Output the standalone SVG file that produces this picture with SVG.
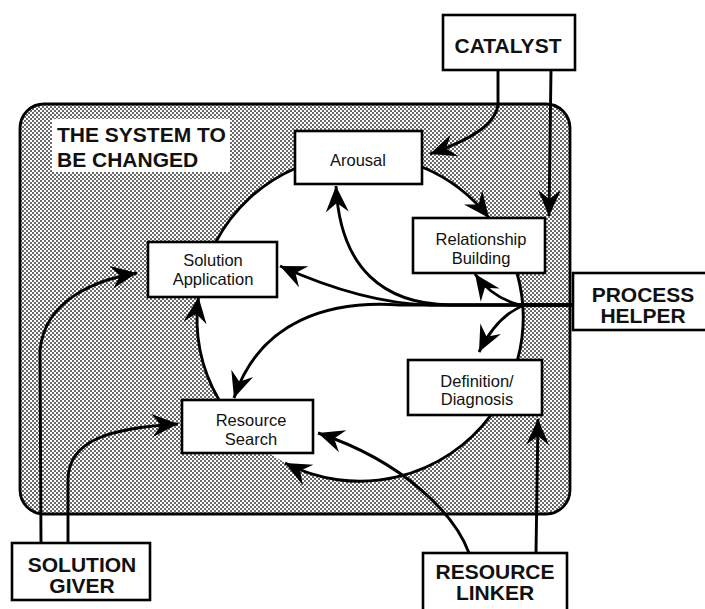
<svg xmlns="http://www.w3.org/2000/svg" width="705" height="609" viewBox="0 0 705 609">
  <defs>
    <!-- halftone dot screen used for the system area -->
    <pattern id="stipple" width="4" height="4" patternUnits="userSpaceOnUse">
      <rect width="4" height="4" fill="#fff"/>
      <circle cx="1" cy="1" r="0.95" fill="#2a2a2a"/>
      <circle cx="3" cy="3" r="0.95" fill="#2a2a2a"/>
    </pattern>
    <marker id="head" markerUnits="userSpaceOnUse" markerWidth="30" markerHeight="28" viewBox="-28 -14 30 28" refX="0" refY="0" orient="auto">
      <path d="M0,0 L-26,-11.5 L-17,0 L-26,11.5 Z" fill="#000"/>
    </marker>
    <style>
      .box { fill: #fff; stroke: #000; stroke-width: 2.6; }
      .conn { fill: none; stroke: #000; stroke-width: 2.9; }
      .arrow { marker-end: url(#head); }
      .big { font-family: "Liberation Sans", Arial, Helvetica, sans-serif; font-weight: bold; font-size: 21px; fill: #111; }
      .mid { text-anchor: middle; }
      .small { font-family: "Liberation Sans", Arial, Helvetica, sans-serif; font-size: 16.5px; fill: #111; text-anchor: middle; }
    </style>
  </defs>

  <rect width="705" height="609" fill="#fff"/>

  <!-- the system to be changed: shaded container with its title -->
  <g id="system">
    <rect x="20" y="104" width="550" height="410" rx="24" fill="url(#stipple)" stroke="#000" stroke-width="2.8"/>
    <rect x="52" y="119" width="178" height="53" fill="#fff"/>
    <text class="big" x="57" y="142">THE SYSTEM TO</text>
    <text class="big" x="57" y="167">BE CHANGED</text>
    <!-- open inner cycle area -->
    <circle cx="360" cy="318" r="163" fill="#fff"/>
  </g>

  <!-- stages of the change cycle -->
  <g id="arousal">
    <rect class="box" x="295" y="131" width="127" height="53"/>
    <text class="small" x="358" y="166">Arousal</text>
  </g>
  <g id="relationship-building">
    <rect class="box" x="413" y="218" width="132" height="55"/>
    <text class="small" x="481" y="245">Relationship</text>
    <text class="small" x="481" y="263.5">Building</text>
  </g>
  <g id="definition-diagnosis">
    <rect class="box" x="408" y="360" width="134" height="55"/>
    <text class="small" x="477" y="386.5">Definition/</text>
    <text class="small" x="477" y="405">Diagnosis</text>
  </g>
  <g id="resource-search">
    <rect class="box" x="182" y="400" width="131" height="53"/>
    <text class="small" x="251" y="426">Resource</text>
    <text class="small" x="251" y="444.5">Search</text>
  </g>
  <g id="solution-application">
    <rect class="box" x="148" y="242" width="129" height="55"/>
    <text class="small" x="213" y="266">Solution</text>
    <text class="small" x="213" y="284.5">Application</text>
  </g>

  <!-- change agent roles -->
  <g id="catalyst">
    <rect class="box" x="443" y="15" width="132" height="55"/>
    <text class="big mid" x="508" y="53">CATALYST</text>
  </g>
  <g id="process-helper">
    <rect class="box" x="573" y="273" width="140" height="57"/>
    <text class="big mid" x="643" y="302">PROCESS</text>
    <text class="big mid" x="643" y="323">HELPER</text>
  </g>
  <g id="solution-giver">
    <rect class="box" x="12" y="543" width="138" height="57"/>
    <text class="big mid" x="82" y="572">SOLUTION</text>
    <text class="big mid" x="82" y="593">GIVER</text>
  </g>
  <g id="resource-linker">
    <rect class="box" x="423" y="553" width="144" height="62"/>
    <text class="big mid" x="495" y="579">RESOURCE</text>
    <text class="big mid" x="495" y="600">LINKER</text>
  </g>

  <g id="connectors">
    <!-- cycle arcs -->
    <path class="conn arrow" d="M422,167 A163,163 0 0 1 489,218"/>
    <path class="conn" d="M517,273 A163,163 0 0 1 517.5,360"/>
    <path class="conn arrow" d="M491,415 A163,163 0 0 1 285,463"/>
    <path class="conn arrow" d="M219,400 A163,163 0 0 1 198.5,297"/>
    <path class="conn" d="M215.8,242 A163,163 0 0 1 295,168.5"/>

    <!-- catalyst -->
    <path class="conn arrow" d="M498,70 L498,105 C495,125 470,140 430,154"/>
    <path class="conn arrow" d="M551,70 L549,216"/>

    <!-- process helper fan -->
    <path class="conn arrow" d="M573,305 L450,305 C385,304 340,270 336,186"/>
    <path class="conn arrow" d="M573,305 L430,305 C390,304 340,293 280,266"/>
    <path class="conn arrow" d="M573,305 L400,305 C330,300 260,320 234,398"/>
    <path class="conn arrow" d="M573,305 L520,305 C500,300 485,288 475,274"/>
    <path class="conn arrow" d="M573,305 L525,305 C505,312 490,330 479,352"/>

    <!-- solution giver -->
    <path class="conn arrow" d="M41,543 L40,350 C45,300 95,280 137,273"/>
    <path class="conn arrow" d="M68,543 L68,480 C68,440 110,428 178,424"/>

    <!-- resource linker -->
    <path class="conn arrow" d="M469,553 C455,515 405,462 318,433"/>
    <path class="conn arrow" d="M536,553 L538,419"/>
  </g>
</svg>
